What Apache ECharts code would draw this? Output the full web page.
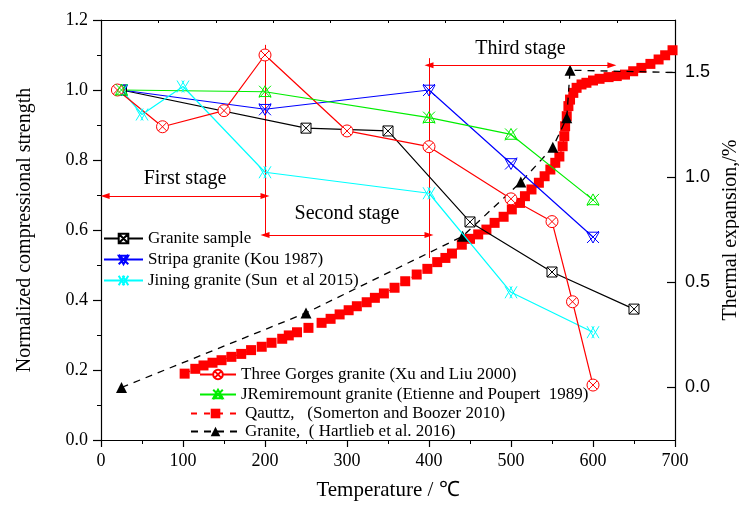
<!DOCTYPE html>
<html>
<head>
<meta charset="utf-8">
<script src="https://cdn.jsdelivr.net/npm/echarts@6/dist/echarts.min.js"></script>
<style>
html,body{margin:0;padding:0;background:#fff;}
#chart{width:739px;height:506px;}
</style>
</head>
<body>
<div id="chart"></div>
<script>
// ---------- data ----------
const graniteT = [25, 250, 350, 450, 550, 650];
const graniteV = [1.0, 0.891, 0.883, 0.623, 0.48, 0.374];

const stripaT = [25, 200, 400, 500, 600];
const stripaV = [1.0, 0.945, 1.0, 0.79, 0.58];

const jiningT = [25, 50, 100, 200, 400, 500, 600];
const jiningV = [1.0, 0.93, 1.01, 0.765, 0.705, 0.422, 0.308];

const gorgesT = [20, 75, 150, 200, 300, 400, 500, 550, 575, 600];
const gorgesV = [1.0, 0.895, 0.941, 1.10, 0.883, 0.838, 0.689, 0.624, 0.395, 0.157];

const remiT = [25, 200, 400, 500, 600];
const remiV = [1.0, 0.995, 0.921, 0.873, 0.686];

const quartzT = [102,115,125,136,147,159,171,183,196,208,221,229,239,253,269,280,291,302,312,324,334,345,358,371,385,398,410,420,428,440,450,460,470,480,491,501,511,517,525,534,541,548,554,559,563,565,566,568,570,572,576,580,586,592,600,608,619,629,639,649,659,670,680,688,697];
const quartzV = [0.066,0.089,0.105,0.118,0.13,0.146,0.16,0.178,0.194,0.213,0.232,0.248,0.263,0.284,0.308,0.327,0.348,0.368,0.387,0.406,0.427,0.448,0.475,0.506,0.538,0.565,0.597,0.617,0.638,0.68,0.708,0.729,0.752,0.784,0.813,0.848,0.879,0.911,0.943,0.975,1.006,1.038,1.07,1.10,1.149,1.197,1.244,1.292,1.34,1.371,1.403,1.427,1.443,1.451,1.462,1.47,1.478,1.483,1.49,1.506,1.522,1.541,1.562,1.582,1.606];

const hartT = [25, 250, 441, 512, 551, 568, 572, 700];
const hartV = [0.0, 0.355, 0.72, 0.978, 1.144, 1.284, 1.511, 1.5];
const hartMarked = [true, true, true, true, true, true, true, false];

const names = [
  'Granite sample',
  'Stripa granite (Kou 1987)',
  'Jining granite (Sun  et al 2015)',
  'Three Gorges granite (Xu and Liu 2000)',
  'JRemiremount granite (Etienne and Poupert  1989)',
  'Qauttz,   (Somerton and Boozer 2010)',
  'Granite,  ( Hartlieb et al. 2016)'
];

// stage annotations (in data units: temperature, normalized strength)
const stageLabels = ['First stage', 'Second stage', 'Third stage'];
const stageFrom = [5, 200, 400];
const stageTo = [200, 400, 623];
const stageLevel = [0.697, 0.586, 1.071];
const stageLabelGap = [7, 11, 6];
const boundaryT = [200, 400];
const boundaryLow = [0.586, 0.52];
const boundaryHigh = [1.129, 1.091];

const xTicks = [0, 100, 200, 300, 400, 500, 600, 700];
const leftTicks = [0, 0.2, 0.4, 0.6, 0.8, 1.0, 1.2];
const rightTicks = [0, 0.5, 1.0, 1.5];
const rightMinorTicks = [0.25, 0.75, 1.25];

// ---------- helpers ----------
const zip = (xs, ys) => xs.map((x, i) => [x, ys[i]]);
const SERIF = 'Liberation Serif';
const SANS = 'Liberation Sans';

const symSquareX = 'path://M0,0 L10,0 L10,10 L0,10 Z M0,0 L10,10 M10,0 L0,10';
const symCircleX = 'path://M10,5 A5,5 0 1 1 0,5 A5,5 0 1 1 10,5 Z M1.5,1.5 L8.5,8.5 M8.5,1.5 L1.5,8.5';
const symDownTriX = 'path://M0,1 L10,1 L5,10 Z M0,0 L10,10 M10,0 L0,10';
const symUpTriX = 'path://M5,0 L10,9 L0,9 Z M0,0 L10,10 M10,0 L0,10';
const symDoubleX = 'path://M0,0 L6,10 M6,0 L0,10 M4,0 L10,10 M10,0 L4,10';

function strengthSeries(name, xs, ys, color, symbol, fill, size) {
  return {
    name: name, type: 'line', xAxisIndex: 0, yAxisIndex: 0,
    data: zip(xs, ys),
    symbol: symbol, symbolSize: size, showAllSymbol: true,
    lineStyle: { color: color, width: 1.2 },
    itemStyle: { color: fill, borderColor: color, borderWidth: 1 },
    z: 5
  };
}

const markLineData = [];
stageLabels.forEach((lab, i) => {
  markLineData.push([
    { coord: [stageFrom[i], stageLevel[i]], symbol: 'triangle', symbolSize: [6, 9],
      label: { show: true, formatter: lab, position: 'insideMiddleTop', distance: stageLabelGap[i],
               color: '#000', fontSize: 20, fontFamily: SERIF } },
    { coord: [stageTo[i], stageLevel[i]], symbol: 'triangle', symbolSize: [6, 9] }
  ]);
});
boundaryT.forEach((t, i) => {
  markLineData.push([
    { coord: [t, boundaryLow[i]], symbol: 'none', label: { show: false } },
    { coord: [t, boundaryHigh[i]], symbol: 'none' }
  ]);
});

const series = [
  {
    name: names[5], type: 'line', xAxisIndex: 0, yAxisIndex: 1,
    data: zip(quartzT, quartzV),
    symbol: 'rect', symbolSize: 10, showAllSymbol: true,
    lineStyle: { color: '#ff0000', width: 1.2, type: [6, 7] },
    itemStyle: { color: '#ff0000' },
    z: 2
  },
  {
    name: names[6], type: 'line', xAxisIndex: 0, yAxisIndex: 1,
    data: hartT.map((t, i) => hartMarked[i] ? [t, hartV[i]] : { value: [t, hartV[i]], symbol: 'none' }),
    symbol: 'triangle', symbolSize: 11, showAllSymbol: true,
    lineStyle: { color: '#000', width: 1.3, type: [7, 6] },
    itemStyle: { color: '#000' },
    z: 3
  },
  Object.assign(strengthSeries(names[0], graniteT, graniteV, '#000000', symSquareX, '#ffffff', 10), {
    markLine: {
      silent: true, animation: false,
      lineStyle: { color: '#ff0000', width: 1, type: 'solid' },
      label: { show: false },
      emphasis: { disabled: true },
      data: markLineData
    }
  }),
  strengthSeries(names[1], stripaT, stripaV, '#0000ff', symDownTriX, 'rgba(255,255,255,0)', 12),
  strengthSeries(names[2], jiningT, jiningV, '#00ffff', symDoubleX, 'rgba(255,255,255,0)', 12),
  strengthSeries(names[3], gorgesT, gorgesV, '#ff0000', symCircleX, '#ffffff', 12),
  strengthSeries(names[4], remiT, remiV, '#00ee00', symUpTriX, 'rgba(255,255,255,0)', 12)
];

const legendText = { fontFamily: SERIF, fontSize: 17, color: '#000' };

const option = {
  animation: false,
  backgroundColor: '#ffffff',
  grid: { left: 101, right: 64, top: 20, bottom: 66, containLabel: false, outerBoundsMode: 'none' },
  legend: [
    { data: names.slice(0, 3), orient: 'vertical', left: 103, top: 230, itemWidth: 39, itemHeight: 12,
      itemGap: 4, textStyle: legendText, selectedMode: false, padding: 0 },
    { data: names.slice(3, 5), orient: 'vertical', left: 199, top: 366, itemWidth: 36, itemHeight: 12,
      itemGap: 3, textStyle: legendText, selectedMode: false, padding: 0 },
    { data: names.slice(5, 7), orient: 'vertical', left: 190, top: 405, itemWidth: 49, itemHeight: 12,
      itemGap: 1, textStyle: legendText, selectedMode: false, padding: 0 }
  ],
  xAxis: [
    {
      type: 'value', position: 'bottom', min: xTicks[0], max: xTicks[xTicks.length - 1], interval: 100,
      name: 'Temperature / \u2103', nameLocation: 'middle', nameGap: 40,
      nameTextStyle: { fontFamily: SERIF, fontSize: 21, color: '#000' },
      axisLine: { show: true, onZero: false, lineStyle: { color: '#000', width: 1.2 } },
      axisTick: { show: true, inside: false, length: 7, lineStyle: { color: '#000', width: 1.2 } },
      minorTick: { show: true, splitNumber: 2, length: 4, lineStyle: { color: '#000', width: 1 } },
      axisLabel: { fontFamily: SERIF, fontSize: 18, color: '#000', margin: 12 },
      splitLine: { show: false }
    },
    {
      type: 'value', position: 'top', min: 0, max: 700, interval: 70,
      axisLine: { show: true, onZero: false, lineStyle: { color: '#000', width: 1.2 } },
      axisTick: { show: true, inside: true, length: 3, lineStyle: { color: '#000', width: 1 } },
      axisLabel: { show: false },
      splitLine: { show: false }
    }
  ],
  yAxis: [
    {
      type: 'value', position: 'left', min: leftTicks[0], max: leftTicks[leftTicks.length - 1], interval: 0.2,
      name: 'Normalized compressional strength', nameLocation: 'middle', nameGap: 66, nameRotate: 90,
      nameTextStyle: { fontFamily: SERIF, fontSize: 20, color: '#000' },
      axisLine: { show: true, onZero: false, lineStyle: { color: '#000', width: 1.2 } },
      axisTick: { show: true, inside: false, length: 8, lineStyle: { color: '#000', width: 1.2 } },
      minorTick: { show: true, splitNumber: 2, length: 4, lineStyle: { color: '#000', width: 1 } },
      axisLabel: { fontFamily: SERIF, fontSize: 18, color: '#000', margin: 13,
                   formatter: v => v.toFixed(1) },
      splitLine: { show: false }
    },
    {
      type: 'value', position: 'right', min: -0.25, max: 1.75,
      name: 'Thermal expansion,/%', nameLocation: 'middle', nameGap: 46, nameRotate: 90,
      nameTextStyle: { fontFamily: SERIF, fontSize: 20, color: '#000' },
      axisLine: { show: true, onZero: false, lineStyle: { color: '#000', width: 1.2 } },
      axisTick: { show: true, inside: true, length: 8, customValues: rightTicks, lineStyle: { color: '#000', width: 1.2 } },
      axisLabel: { fontFamily: SANS, fontSize: 18, color: '#000', margin: 10, customValues: rightTicks,
                   formatter: v => v.toFixed(1) },
      splitLine: { show: false }
    },
    {
      type: 'value', position: 'right', min: -0.25, max: 1.75,
      axisLine: { show: false },
      axisTick: { show: true, inside: true, length: 4, customValues: rightMinorTicks, lineStyle: { color: '#000', width: 1 } },
      axisLabel: { show: false },
      splitLine: { show: false }
    }
  ],
  series: series
};

const chart = echarts.init(document.getElementById('chart'), null, { renderer: 'canvas' });
chart.setOption(option);
</script>
</body>
</html>
